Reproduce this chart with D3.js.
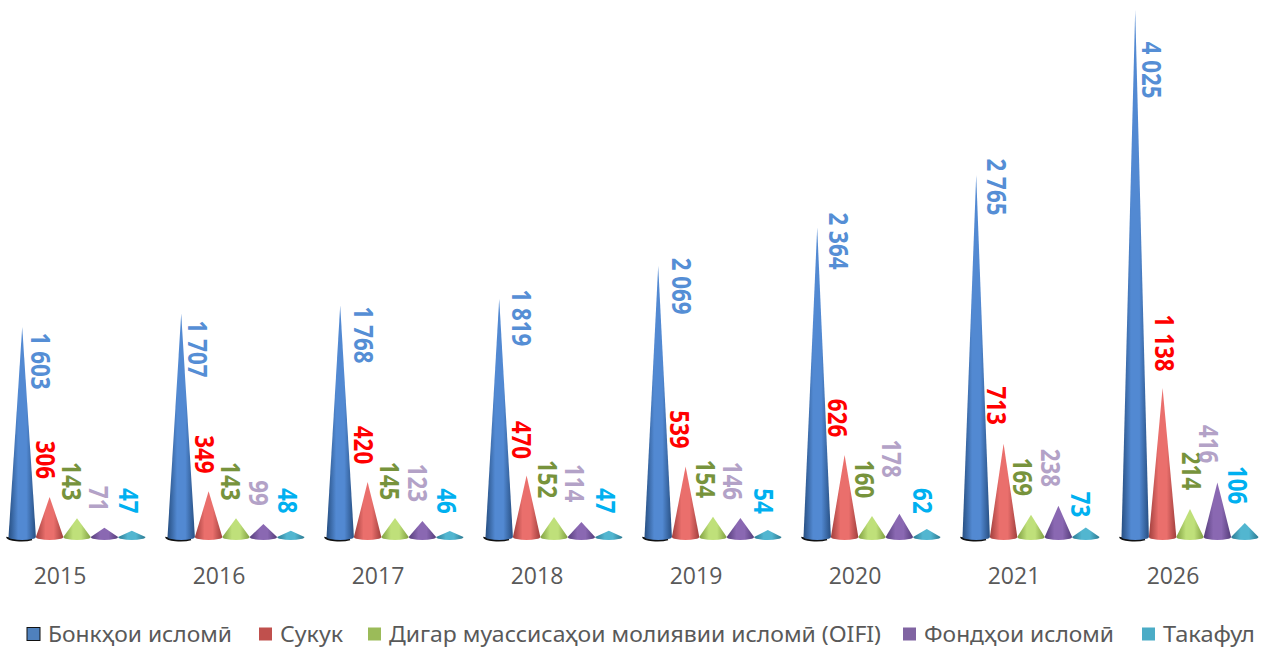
<!DOCTYPE html>
<html>
<head>
<meta charset="utf-8">
<script src="https://d3js.org/d3.v7.min.js"></script>
<style>
  html, body { margin: 0; padding: 0; background: #fff; }
  svg { display: block; }
</style>
</head>
<body>
<div id="chart"></div>
<script>
const years = ["2015", "2016", "2017", "2018", "2019", "2020", "2021", "2026"];
const seriesNames = ["Бонкҳои исломӣ", "Сукук", "Дигар муассисаҳои молиявии исломӣ (OIFI)", "Фондҳои исломӣ", "Такафул"];

const banks = [1603, 1707, 1768, 1819, 2069, 2364, 2765, 4025];
const sukuk = [306, 349, 420, 470, 539, 626, 713, 1138];
const oifi = [143, 143, 145, 152, 154, 160, 169, 214];
const funds = [71, 99, 123, 114, 146, 178, 238, 416];
const takaful = [47, 48, 46, 47, 54, 62, 73, 106];
const seriesValues = [banks, sukuk, oifi, funds, takaful];

// labels were moved by hand in the original, so each one has its own nudge
const labelDx = [
  [19, 17, 24, 23, 24, 22, 21, 17],
  [-3, -3, -3, -4, -5, -6, -6, 3],
  [-5, -5, -5, -6, -7, -7, -8, 2],
  [-5, -4, -4, -6, -7, -7, -7, -8],
  [-3, -3, -3, -3, -4, -4, -5, -7]
];
const labelDy = [
  [34, 35.5, 29.5, 19, 20, 13.5, 12, 60],
  [-37, -37, -37, -35.5, -37, -37, -38, -45],
  [-37, -37, -37, -38, -38, -37, -38, -38],
  [-29, -31, -38, -39, -37, -55, -38, -38.5],
  [-30, -30, -30, -30, -29, -28, -23, -38]
];

const coneColors = [
  {edge: "#274f82", mid: "#5289d2", swatch: "#4f81bd"},
  {edge: "#a03f3d", mid: "#ea6f6c", swatch: "#c0504d"},
  {edge: "#7f9f40", mid: "#bfe07a", swatch: "#9bbb59"},
  {edge: "#553d7a", mid: "#8a68b2", swatch: "#8064a2"},
  {edge: "#2a7890", mid: "#52b6d0", swatch: "#4bacc6"}
];
const labelColors = ["#558ed5", "#ff0000", "#77933c", "#b3a2c7", "#00b0f0"];

const legendSwatchX = [27, 259, 368, 903, 1142];
const legendTextWidth = [184, 63, 492, 190, 92];

const width = 1261, height = 648;
const baseY = 537;

const svg = d3.select("#chart").append("svg")
  .attr("width", width)
  .attr("height", height);

svg.append("rect").attr("width", width).attr("height", height).attr("fill", "#fff");

const x = d3.scaleBand()
  .domain(years)
  .range([-2.5, 1269.5]);

const xSeries = d3.scaleBand()
  .domain(d3.range(seriesNames.length))
  .range([x.bandwidth() / 2 - 68.5, x.bandwidth() / 2 + 68.5]);

const y = d3.scaleLinear()
  .domain([0, 4025])
  .range([baseY, 10]);

const defs = svg.append("defs");
coneColors.forEach((c, i) => {
  const grad = defs.append("linearGradient")
    .attr("id", "cone" + i)
    .attr("x1", 0).attr("x2", 1).attr("y1", 0).attr("y2", 0);
  grad.append("stop").attr("offset", "0%").attr("stop-color", c.edge);
  grad.append("stop").attr("offset", "35%").attr("stop-color", c.mid);
  grad.append("stop").attr("offset", "65%").attr("stop-color", c.mid);
  grad.append("stop").attr("offset", "100%").attr("stop-color", c.edge);
});

const points = [];
seriesValues.forEach((vals, s) => {
  vals.forEach((v, i) => {
    points.push({series: s, year: years[i], value: v, dx: labelDx[s][i], dy: labelDy[s][i]});
  });
});

function cx(d) {
  return x(d.year) + xSeries(d.series) + xSeries.bandwidth() / 2;
}

function conePath(d) {
  const r = xSeries.bandwidth() / 2;
  const c = cx(d);
  return `M${c - r},${baseY} L${c},${y(d.value)} L${c + r},${baseY} A${r},3 0 0 1 ${c - r},${baseY} Z`;
}

// black rim under the tall blue cones
svg.selectAll(".rim")
  .data(points.filter(d => d.series == 0))
  .enter()
  .append("path")
  .attr("class", "rim")
  .attr("d", d => {
    const r = xSeries.bandwidth() / 2;
    const c = cx(d);
    return `M${c + r - 4},${baseY + 2} A${r},3 0 0 1 ${c - r - 1},${baseY}`;
  })
  .attr("fill", "none")
  .attr("stroke", "#111")
  .attr("stroke-width", 2.5);

svg.selectAll(".cone")
  .data(points)
  .enter()
  .append("path")
  .attr("class", "cone")
  .attr("d", conePath)
  .attr("fill", d => `url(#cone${d.series})`);

svg.selectAll(".value-label")
  .data(points)
  .enter()
  .append("text")
  .attr("class", "value-label")
  .attr("transform", d => `translate(${cx(d) + d.dx},${y(d.value) + d.dy}) rotate(90) scale(0.86,1)`)
  .attr("text-anchor", "middle")
  .attr("dominant-baseline", "central")
  .style("font-family", "'Open Sans', sans-serif")
  .style("font-size", "26px")
  .style("font-weight", 700)
  .attr("fill", d => labelColors[d.series])
  .text(d => d3.format(",")(d.value).replace(",", " "));

// year labels sit a bit left of the group middle
const axis = svg.append("g")
  .attr("transform", "translate(-17,577)")
  .call(d3.axisBottom(x).tickSize(0).tickPadding(0));
axis.select(".domain").remove();
axis.selectAll("text")
  .attr("fill", "#595959")
  .style("font-family", "'Open Sans', sans-serif")
  .style("font-size", "23px")
  .attr("dy", "0.32em")
  .attr("y", 0);

const legend = svg.append("g")
  .attr("class", "legend")
  .attr("transform", "translate(0,634)");

const legendItem = legend.selectAll(".legend-item")
  .data(seriesNames)
  .enter()
  .append("g")
  .attr("class", "legend-item")
  .attr("transform", (d, i) => `translate(${legendSwatchX[i]},0)`);

legendItem.append("rect")
  .attr("x", 0)
  .attr("y", -6.5)
  .attr("width", 13)
  .attr("height", 13)
  .attr("fill", (d, i) => coneColors[i].swatch)
  .attr("stroke", (d, i) => i == 0 ? "#111" : "none");

legendItem.append("text")
  .attr("x", 21)
  .attr("y", 0)
  .attr("dominant-baseline", "central")
  .attr("fill", "#595959")
  .attr("textLength", (d, i) => legendTextWidth[i])
  .attr("lengthAdjust", "spacingAndGlyphs")
  .style("font-family", "'Noto Sans', sans-serif")
  .style("font-size", "21px")
  .text(d => d);
</script>
</body>
</html>
